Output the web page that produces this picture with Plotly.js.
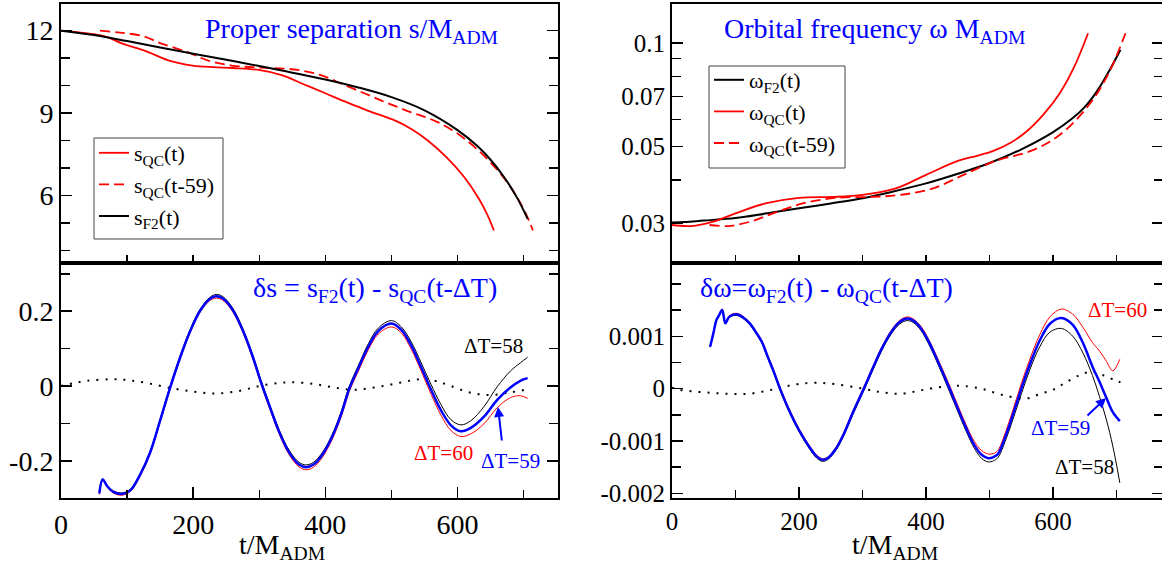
<!DOCTYPE html>
<html>
<head>
<meta charset="utf-8">
<script src="https://cdn.plot.ly/plotly-3.0.1.min.js"></script>
<style>
  html, body { margin: 0; padding: 0; background: #fff; overflow: hidden; }
  #plot { width: 1164px; height: 564px; }
</style>
</head>
<body>
<div id="plot"></div>
<script>
// ---------------- DATA ----------------
// Top-left: proper separation s/M_ADM
const tQC = [0, 30, 65, 92, 131, 165, 199, 230, 260, 299, 334, 368, 400, 425, 447, 470, 490, 510, 530, 554, 582, 610, 633, 645, 655];
const sQC = [12.0, 11.93, 11.8, 11.54, 11.23, 10.9, 10.73, 10.67, 10.64, 10.57, 10.38, 10.04, 9.72, 9.46, 9.25, 9.03, 8.87, 8.68, 8.42, 8.02, 7.42, 6.67, 5.85, 5.3, 4.73];
const tF2 = [0, 50, 100, 150, 200, 250, 300, 350, 400, 450, 500, 550, 600, 630, 650, 670, 690, 706];
const sF2 = [12.0, 11.84, 11.62, 11.39, 11.16, 10.94, 10.71, 10.47, 10.22, 9.93, 9.58, 9.1, 8.38, 7.8, 7.3, 6.68, 5.92, 5.15];
const SHIFT = 59; // time shift used for the dashed QC curves, t-59

// Top-right: orbital frequency
const tWQC = [0, 30, 65, 100, 147, 200, 252, 300, 352, 400, 451, 480, 505, 533, 560, 585, 610, 633, 655];
const wQC = [0.0296, 0.0294, 0.0303, 0.0320, 0.0342, 0.0355, 0.0357, 0.0362, 0.0378, 0.0414, 0.0455, 0.0470, 0.0485, 0.0513, 0.0557, 0.0620, 0.0712, 0.0850, 0.1067];
const tWF2 = [0, 20, 50, 100, 150, 200, 250, 300, 350, 400, 450, 500, 550, 600, 630, 650, 670, 690, 706];
const wF2 = [0.0301, 0.0302, 0.0305, 0.0310, 0.0320, 0.0331, 0.0342, 0.0354, 0.0371, 0.0391, 0.0417, 0.0448, 0.0491, 0.0551, 0.0603, 0.0652, 0.0728, 0.0840, 0.0955];

// Bottom-left: delta s for dT = 58, 59, 60 and dotted curve
const tDS = [58, 63, 70, 80, 92, 105, 120, 135, 150, 165, 180, 195, 210, 225, 235, 245, 260, 275, 290, 303, 315, 330, 345, 360, 371, 382, 395, 410, 425, 436, 450, 465, 480, 500, 515, 530, 545, 560, 575, 590, 605, 620, 640, 660, 680, 695, 706];
const dS59 = [-0.287, -0.250, -0.268, -0.284, -0.289, -0.279, -0.236, -0.177, -0.092, -0.005, 0.075, 0.145, 0.200, 0.233, 0.240, 0.234, 0.203, 0.149, 0.079, 0.008, -0.051, -0.122, -0.177, -0.210, -0.217, -0.210, -0.185, -0.137, -0.070, -0.008, 0.048, 0.105, 0.147, 0.167, 0.150, 0.108, 0.050, -0.010, -0.065, -0.105, -0.121, -0.112, -0.082, -0.037, -0.004, 0.014, 0.021];
const dS58 = [-0.285, -0.248, -0.266, -0.281, -0.286, -0.276, -0.233, -0.174, -0.089, -0.001, 0.079, 0.149, 0.204, 0.237, 0.245, 0.239, 0.208, 0.154, 0.084, 0.013, -0.046, -0.117, -0.171, -0.204, -0.211, -0.204, -0.179, -0.131, -0.063, -0.001, 0.055, 0.113, 0.155, 0.175, 0.158, 0.118, 0.062, 0.004, -0.050, -0.090, -0.104, -0.093, -0.055, -0.002, 0.040, 0.062, 0.077];
const dS60 = [-0.290, -0.253, -0.271, -0.287, -0.292, -0.282, -0.240, -0.181, -0.096, -0.009, 0.071, 0.141, 0.196, 0.228, 0.235, 0.229, 0.198, 0.144, 0.074, 0.003, -0.057, -0.128, -0.183, -0.216, -0.224, -0.217, -0.192, -0.144, -0.077, -0.015, 0.040, 0.097, 0.139, 0.158, 0.142, 0.098, 0.040, -0.022, -0.078, -0.119, -0.135, -0.128, -0.101, -0.058, -0.031, -0.026, -0.033];
const tDSdot = [0, 20, 40, 75, 100, 130, 165, 200, 235, 270, 300, 330, 350, 380, 410, 440, 470, 500, 530, 550, 570, 590, 620, 650, 680, 706];
const dSdot = [0.000, 0.008, 0.014, 0.018, 0.016, 0.008, -0.005, -0.015, -0.020, -0.013, 0.000, 0.008, 0.010, 0.006, -0.003, -0.010, -0.005, 0.004, 0.015, 0.019, 0.012, 0.000, -0.018, -0.024, -0.017, -0.009];

// Bottom-right: delta omega for dT = 58, 59, 60 and dotted curve
const tDW = [60, 65, 70, 74, 79, 84, 90, 101, 112, 122, 132, 142, 150, 160, 170, 182, 195, 205, 217, 228, 237, 246, 258, 270, 285, 302, 315, 330, 345, 358, 370, 380, 392, 405, 420, 437, 450, 463, 476, 488, 498, 506, 513, 526, 538, 550, 563, 579, 595, 613, 631, 647, 662, 673, 684, 694, 705];
const dW59 = [0.00080, 0.00105, 0.00131, 0.00140, 0.00150, 0.00125, 0.00137, 0.00142, 0.00136, 0.00125, 0.00108, 0.00088, 0.00063, 0.00033, 0.00000, -0.00035, -0.00068, -0.00090, -0.00113, -0.00130, -0.00136, -0.00132, -0.00115, -0.00088, -0.00045, 0.00000, 0.00036, 0.00076, 0.00108, 0.00127, 0.00134, 0.00130, 0.00115, 0.00088, 0.00048, 0.00000, -0.00038, -0.00075, -0.00108, -0.00127, -0.00133, -0.00131, -0.00125, -0.00088, -0.00045, 0.00000, 0.00045, 0.00092, 0.00124, 0.00135, 0.00122, 0.00087, 0.00042, 0.00013, -0.00018, -0.00045, -0.00062];
const dW60 = [0.00081, 0.00106, 0.00132, 0.00141, 0.00152, 0.00127, 0.00139, 0.00144, 0.00138, 0.00127, 0.00110, 0.00090, 0.00066, 0.00036, 0.00003, -0.00032, -0.00065, -0.00087, -0.00110, -0.00127, -0.00134, -0.00130, -0.00112, -0.00085, -0.00042, 0.00003, 0.00039, 0.00079, 0.00111, 0.00130, 0.00137, 0.00133, 0.00119, 0.00092, 0.00053, 0.00006, -0.00032, -0.00069, -0.00101, -0.00119, -0.00125, -0.00124, -0.00118, -0.00080, -0.00036, 0.00010, 0.00055, 0.00103, 0.00137, 0.00152, 0.00142, 0.00117, 0.00088, 0.00072, 0.00052, 0.00034, 0.00056];
const dW58 = [0.00079, 0.00104, 0.00130, 0.00139, 0.00149, 0.00124, 0.00136, 0.00140, 0.00134, 0.00123, 0.00106, 0.00086, 0.00061, 0.00030, -0.00003, -0.00038, -0.00071, -0.00093, -0.00116, -0.00133, -0.00139, -0.00135, -0.00118, -0.00091, -0.00049, -0.00004, 0.00032, 0.00072, 0.00104, 0.00123, 0.00130, 0.00126, 0.00111, 0.00083, 0.00043, -0.00006, -0.00044, -0.00081, -0.00114, -0.00134, -0.00140, -0.00138, -0.00132, -0.00096, -0.00054, -0.00010, 0.00035, 0.00080, 0.00108, 0.00115, 0.00100, 0.00068, 0.00025, -0.00015, -0.00060, -0.00110, -0.00180];
const tDWdot = [0, 10, 30, 60, 90, 120, 150, 175, 200, 229, 260, 300, 330, 358, 385, 410, 440, 460, 490, 520, 557, 580, 600, 620, 642, 660, 680, 697, 706];
const dWdot = [0.00002, -0.00002, -0.00005, -0.00008, -0.00010, -0.00010, -0.00004, 0.00003, 0.00009, 0.00011, 0.00008, 0.00000, -0.00007, -0.00010, -0.00005, 0.00001, 0.00005, 0.00005, -0.00001, -0.00012, -0.00019, -0.00010, -0.00002, 0.00012, 0.00026, 0.00032, 0.00025, 0.00016, 0.00012];

// Tick labels
const sTicks = [6, 9, 12], sMinor = [4, 5, 7, 8, 10, 11, 13];
const dsTicks = [-0.2, 0, 0.2], dsTickText = ['-0.2', '0', '0.2'], dsMinor = [-0.1, 0.1, 0.3];
const wTicks = [0.03, 0.05, 0.07, 0.1], wTickText = ['0.03', '0.05', '0.07', '0.1'], wMinor = [0.04, 0.06, 0.08, 0.09];
const dwTicks = [-0.002, -0.001, 0, 0.001], dwTickText = ['-0.002', '-0.001', '0', '0.001'], dwMinor = [-0.0015, -0.0005, 0.0005, 0.0015, 0.002];
const tTicks = [0, 200, 400, 600], tMinor = [100, 300, 500, 700];
const tAllTicks = [100, 200, 300, 400, 500, 600, 700];

// ---------------- LAYOUT HELPERS ----------------
const W = 1164, H = 564;
const px = x => x / W;
const py = y => 1 - y / H;
const SERIF = 'Liberation Serif';
const RED = '#ff0000', BLUE = '#0000ff', BLACK = '#000000';

const sp = {shape: 'spline', smoothing: 1};

const traces = [
  // top-left
  {x: tQC, y: sQC, xaxis: 'x', yaxis: 'y', mode: 'lines', name: 's<sub>QC</sub>(t)',
   line: Object.assign({color: RED, width: 1.8}, sp), legend: 'legend'},
  {x: tQC.map(t => t + SHIFT), y: sQC, xaxis: 'x', yaxis: 'y', mode: 'lines', name: 's<sub>QC</sub>(t-59)',
   line: Object.assign({color: RED, width: 1.8, dash: '10px,5px'}, sp), legend: 'legend'},
  {x: tF2, y: sF2, xaxis: 'x', yaxis: 'y', mode: 'lines', name: 's<sub>F2</sub>(t)',
   line: Object.assign({color: BLACK, width: 2}, sp), legend: 'legend'},
  // top-right
  {x: tWF2, y: wF2, xaxis: 'x3', yaxis: 'y3', mode: 'lines', name: '\u03c9<sub>F2</sub>(t)',
   line: Object.assign({color: BLACK, width: 2}, sp), legend: 'legend2'},
  {x: tWQC, y: wQC, xaxis: 'x3', yaxis: 'y3', mode: 'lines', name: '\u03c9<sub>QC</sub>(t)',
   line: Object.assign({color: RED, width: 1.8}, sp), legend: 'legend2'},
  {x: tWQC.map(t => t + SHIFT), y: wQC, xaxis: 'x3', yaxis: 'y3', mode: 'lines', name: '\u03c9<sub>QC</sub>(t-59)',
   line: Object.assign({color: RED, width: 1.8, dash: '10px,5px'}, sp), legend: 'legend2'},
  // bottom-left
  {x: tDSdot, y: dSdot, xaxis: 'x2', yaxis: 'y2', mode: 'lines', showlegend: false,
   line: Object.assign({color: BLACK, width: 2, dash: '2px,7px'}, sp)},
  {x: tDS, y: dS58, xaxis: 'x2', yaxis: 'y2', mode: 'lines', showlegend: false,
   line: Object.assign({color: BLACK, width: 1}, sp)},
  {x: tDS, y: dS60, xaxis: 'x2', yaxis: 'y2', mode: 'lines', showlegend: false,
   line: Object.assign({color: RED, width: 1}, sp)},
  {x: tDS, y: dS59, xaxis: 'x2', yaxis: 'y2', mode: 'lines', showlegend: false,
   line: Object.assign({color: BLUE, width: 2.5}, sp)},
  // bottom-right
  {x: tDWdot, y: dWdot, xaxis: 'x4', yaxis: 'y4', mode: 'lines', showlegend: false,
   line: Object.assign({color: BLACK, width: 2, dash: '2px,7px'}, sp)},
  {x: tDW, y: dW58, xaxis: 'x4', yaxis: 'y4', mode: 'lines', showlegend: false,
   line: Object.assign({color: BLACK, width: 1}, sp)},
  {x: tDW, y: dW60, xaxis: 'x4', yaxis: 'y4', mode: 'lines', showlegend: false,
   line: Object.assign({color: RED, width: 1}, sp)},
  {x: tDW, y: dW59, xaxis: 'x4', yaxis: 'y4', mode: 'lines', showlegend: false,
   line: Object.assign({color: BLUE, width: 2.5}, sp)}
];

function axisBase(extra) {
  return Object.assign({
    showgrid: false, zeroline: false, showline: true, linecolor: BLACK, linewidth: 2,
    ticks: 'inside', ticklen: 11, tickwidth: 1.5, tickcolor: BLACK, tickmode: 'array',
    tickfont: {family: SERIF, size: 28, color: BLACK}, fixedrange: true
  }, extra);
}
function minor(vals, len) {
  return {tickmode: 'array', tickvals: vals, ticks: 'inside', ticklen: len, tickwidth: 1.5, tickcolor: BLACK, showgrid: false};
}

const LX = [px(61), px(558)], RX = [px(672), px(1163)];
const TY = [py(263), py(4)], BY = [py(498), py(263)];

const layout = {
  width: W, height: H,
  margin: {l: 0, r: 0, t: 0, b: 0, pad: 0},
  paper_bgcolor: '#fff', plot_bgcolor: '#fff',
  font: {family: SERIF, color: BLACK},
  showlegend: true,
  xaxis: axisBase({domain: LX, anchor: 'y', range: [0, 752], tickvals: tAllTicks, ticklen: 8, showticklabels: false, mirror: true}),
  yaxis: axisBase({domain: TY, anchor: 'x', range: [3.54, 12.97], tickvals: sTicks, ticktext: sTicks.map(String), mirror: 'ticks', minor: minor(sMinor, 9)}),
  xaxis2: axisBase({domain: LX, anchor: 'y2', range: [0, 752], tickvals: tTicks, ticktext: tTicks.map(String), mirror: true, minor: minor(tMinor, 8)}),
  yaxis2: axisBase({domain: BY, anchor: 'x2', range: [-0.2995, 0.329], tickvals: dsTicks, ticktext: dsTickText, mirror: 'ticks', minor: minor(dsMinor, 9)}),
  xaxis3: axisBase({domain: RX, anchor: 'y3', range: [0, 773], tickvals: tAllTicks, ticklen: 8, showticklabels: false, mirror: true}),
  yaxis3: axisBase({domain: TY, anchor: 'x3', type: 'log', range: [-1.639, -0.887], tickvals: wTicks, ticktext: wTickText, mirror: 'ticks', minor: minor(wMinor, 9), tickfont: {family: SERIF, size: 25, color: BLACK}}),
  xaxis4: axisBase({domain: RX, anchor: 'y4', range: [0, 773], tickvals: tTicks, ticktext: tTicks.map(String), mirror: true, minor: minor(tMinor, 8), tickfont: {family: SERIF, size: 25, color: BLACK}}),
  yaxis4: axisBase({domain: BY, anchor: 'x4', range: [-0.00209, 0.0024], tickvals: dwTicks, ticktext: dwTickText, mirror: 'ticks', minor: minor(dwMinor, 9), tickfont: {family: SERIF, size: 25, color: BLACK}}),
  legend: {x: px(94), y: py(132), xanchor: 'left', yanchor: 'top', bgcolor: 'rgba(0,0,0,0)', borderwidth: 0,
           font: {family: SERIF, size: 22, color: BLACK}, tracegroupgap: 0, itemwidth: 30},
  legend2: {x: px(709), y: py(59), xanchor: 'left', yanchor: 'top', bgcolor: 'rgba(0,0,0,0)', borderwidth: 0,
           font: {family: SERIF, size: 22, color: BLACK}, tracegroupgap: 0, itemwidth: 30},
  shapes: [
    {type: 'rect', xref: 'paper', yref: 'paper', x0: px(94), x1: px(223), y0: py(239), y1: py(138), line: {color: '#444', width: 1}, fillcolor: '#fff', layer: 'above'},
    {type: 'rect', xref: 'paper', yref: 'paper', x0: px(709), x1: px(845), y0: py(168), y1: py(66), line: {color: '#444', width: 1}, fillcolor: '#fff', layer: 'above'}
  ],
  annotations: [
    {text: 'Proper separation s/M<sub>ADM</sub>', xref: 'paper', yref: 'paper', x: px(203), y: py(30), xanchor: 'left', yanchor: 'middle', showarrow: false, font: {family: SERIF, size: 28, color: BLUE}},
    {text: 'Orbital frequency \u03c9 M<sub>ADM</sub>', xref: 'paper', yref: 'paper', x: px(722), y: py(30), xanchor: 'left', yanchor: 'middle', showarrow: false, font: {family: SERIF, size: 28, color: BLUE}},
    {text: '\u03b4s = s<sub>F2</sub>(t) - s<sub>QC</sub>(t-\u0394T)', xref: 'paper', yref: 'paper', x: px(251), y: py(289), xanchor: 'left', yanchor: 'middle', showarrow: false, font: {family: SERIF, size: 28, color: BLUE}},
    {text: '\u03b4\u03c9=\u03c9<sub>F2</sub>(t) - \u03c9<sub>QC</sub>(t-\u0394T)', xref: 'paper', yref: 'paper', x: px(698), y: py(289), xanchor: 'left', yanchor: 'middle', showarrow: false, font: {family: SERIF, size: 28, color: BLUE}},
    {text: 't/M<sub>ADM</sub>', xref: 'paper', yref: 'paper', x: px(282), y: py(546), xanchor: 'center', yanchor: 'middle', showarrow: false, font: {family: SERIF, size: 28, color: BLACK}},
    {text: 't/M<sub>ADM</sub>', xref: 'paper', yref: 'paper', x: px(895), y: py(546), xanchor: 'center', yanchor: 'middle', showarrow: false, font: {family: SERIF, size: 28, color: BLACK}},
    // bottom-left labels
    {text: '\u0394T=58', xref: 'paper', yref: 'paper', x: px(462), y: py(346), xanchor: 'left', yanchor: 'middle', showarrow: false, font: {family: SERIF, size: 21, color: BLACK}},
    {text: '\u0394T=60', xref: 'paper', yref: 'paper', x: px(412), y: py(453), xanchor: 'left', yanchor: 'middle', showarrow: false, font: {family: SERIF, size: 21, color: RED}},
    {text: '\u0394T=59', xref: 'paper', yref: 'paper', x: px(479), y: py(461), xanchor: 'left', yanchor: 'middle', showarrow: false, font: {family: SERIF, size: 21, color: BLUE}},
    {text: '', xref: 'paper', yref: 'paper', x: px(498), y: py(407), showarrow: true, ax: 4, ay: 35, arrowhead: 2, arrowsize: 1, arrowwidth: 2, arrowcolor: BLUE},
    // bottom-right labels
    {text: '\u0394T=60', xref: 'paper', yref: 'paper', x: px(1086), y: py(310), xanchor: 'left', yanchor: 'middle', showarrow: false, font: {family: SERIF, size: 21, color: RED}},
    {text: '\u0394T=59', xref: 'paper', yref: 'paper', x: px(1029), y: py(428), xanchor: 'left', yanchor: 'middle', showarrow: false, font: {family: SERIF, size: 21, color: BLUE}},
    {text: '\u0394T=58', xref: 'paper', yref: 'paper', x: px(1053), y: py(467), xanchor: 'left', yanchor: 'middle', showarrow: false, font: {family: SERIF, size: 21, color: BLACK}},
    {text: '', xref: 'paper', yref: 'paper', x: px(1106), y: py(398), showarrow: true, ax: -20, ay: 19, arrowhead: 2, arrowsize: 1, arrowwidth: 2, arrowcolor: BLUE}
  ]
};

Plotly.newPlot('plot', traces, layout, {staticPlot: true, displayModeBar: false});
</script>
</body>
</html>
